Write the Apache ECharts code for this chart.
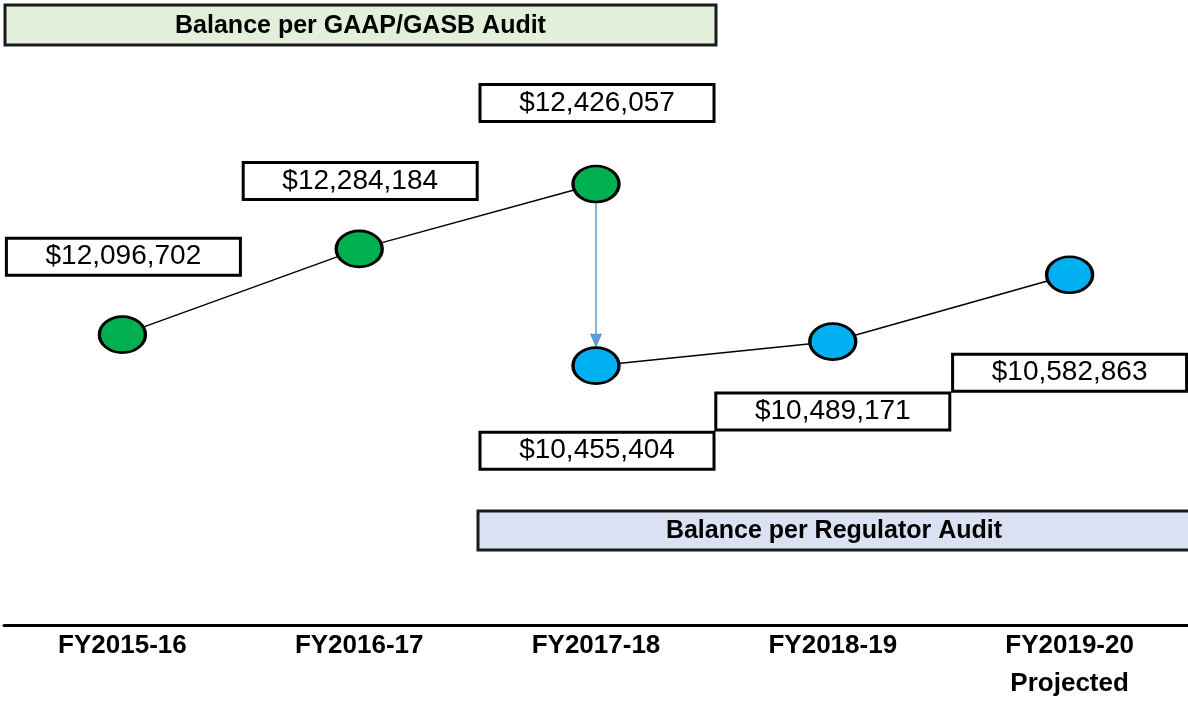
<!DOCTYPE html>
<html>
<head>
<meta charset="utf-8">
<script src="https://cdn.jsdelivr.net/npm/echarts@6/dist/echarts.min.js"></script>
<style>
  html, body { margin: 0; padding: 0; background: #fff; }
  #main { width: 1188px; height: 703px; }
</style>
</head>
<body>
<div id="main"></div>
<script>
const categories = ['FY2015-16', 'FY2016-17', 'FY2017-18', 'FY2018-19', 'FY2019-20\nProjected'];
const gaapValues = [12096702, 12284184, 12426057, null, null];
const regulatorValues = [null, null, 10455404, 10489171, 10582863];
const gaapTitle = 'Balance per GAAP/GASB Audit';
const regulatorTitle = 'Balance per Regulator Audit';

const font = '"Liberation Sans Narrow", "Liberation Sans", sans-serif';

// label boxes sit in a staircase, so each one gets its own nudge
const gaapLabelShift = [[1, -78], [1, -68], [1, -81]];
const regLabelShift = [[1, 85], [0, 70], [0, 98]];

function money(v) {
  return '$' + v.toLocaleString('en-US');
}

function boxLabel(shift) {
  return {
    show: true,
    position: 'inside',
    offset: shift,
    formatter: p => money(p.value),
    width: 231,
    height: 34,
    lineHeight: 34,
    align: 'center',
    verticalAlign: 'middle',
    backgroundColor: '#fff',
    borderColor: '#000',
    borderWidth: 3,
    color: '#000',
    fontFamily: font,
    fontSize: 28
  };
}

let gaapData = gaapValues.map((v, i) => v == null ? null : { value: v, label: boxLabel(gaapLabelShift[i]) });
let regData = regulatorValues.map((v, i) => v == null ? null : { value: v, label: boxLabel(regLabelShift[i - 2]) });

let myChart = echarts.init(document.getElementById('main'));
myChart.setOption({
  backgroundColor: '#fff',
  animation: false,
  grid: { left: 4, right: 0, top: 0, bottom: 76, containLabel: false },
  xAxis: {
    type: 'category',
    data: categories,
    boundaryGap: true,
    axisLine: { lineStyle: { color: '#000', width: 3 } },
    axisTick: { show: false },
    axisLabel: {
      interval: 0,
      margin: 2,
      lineHeight: 38,
      color: '#000',
      fontFamily: font,
      fontWeight: 'bold',
      fontSize: 26
    },
    splitLine: { show: false }
  },
  yAxis: [
    { type: 'value', show: false, min: 11461800, max: 12828400, splitLine: { show: false } },
    { type: 'value', show: false, min: 10091800, max: 10968000, splitLine: { show: false } }
  ],
  series: [
    {
      name: gaapTitle,
      type: 'line',
      yAxisIndex: 0,
      data: gaapData,
      symbol: 'circle',
      symbolSize: [46, 36],
      z: 3,
      lineStyle: { color: '#000', width: 1.5 },
      itemStyle: { color: '#00b050', borderColor: '#000', borderWidth: 3 }
    },
    {
      name: regulatorTitle,
      type: 'line',
      yAxisIndex: 1,
      data: regData,
      symbol: 'circle',
      symbolSize: [46, 36],
      z: 3,
      lineStyle: { color: '#000', width: 1.5 },
      itemStyle: { color: '#00b0f0', borderColor: '#000', borderWidth: 3 }
    }
  ]
});

// arrow from the GAAP point to the regulator point in FY2017-18
let fromPt = myChart.convertToPixel({ xAxisIndex: 0, yAxisIndex: 0 }, [2, gaapValues[2]]);
let toPt = myChart.convertToPixel({ xAxisIndex: 0, yAxisIndex: 1 }, [2, regulatorValues[2]]);
let ax = fromPt[0];
let y1 = fromPt[1] + 19;
let y2 = toPt[1] - 18;

function titleBox(x, y, w, h, fill, text) {
  return {
    type: 'group',
    z: 10,
    children: [
      { type: 'rect', shape: { x: x, y: y, width: w, height: h }, style: { fill: fill, stroke: '#1a1a1a', lineWidth: 3 } },
      {
        type: 'text', x: x + w / 2, y: y + h / 2 + 1,
        style: { text: text, align: 'center', verticalAlign: 'middle', fill: '#000', fontFamily: font, fontWeight: 'bold', fontSize: 25 }
      }
    ]
  };
}

myChart.setOption({
  graphic: [
    titleBox(5, 5, 711, 40, '#e2efda', gaapTitle),
    titleBox(478, 511, 712, 39, '#d9e1f2', regulatorTitle),
    { type: 'line', z: 2, shape: { x1: ax, y1: y1, x2: ax, y2: y2 - 12 }, style: { stroke: '#5b9bd5', lineWidth: 1.5 } },
    { type: 'polygon', z: 2, shape: { points: [[ax - 6, y2 - 14], [ax + 6, y2 - 14], [ax, y2]] }, style: { fill: '#5b9bd5' } }
  ]
});
</script>
</body>
</html>
